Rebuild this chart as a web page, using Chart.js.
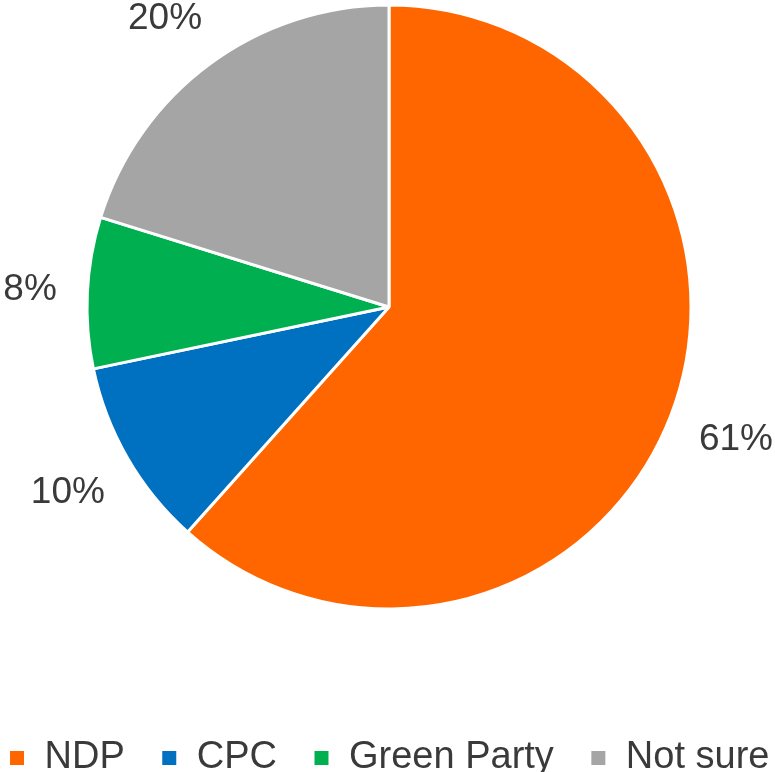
<!DOCTYPE html>
<html>
<head>
<meta charset="utf-8">
<script src="https://cdn.jsdelivr.net/npm/chart.js@4/dist/chart.umd.min.js"></script>
<style>
  html, body { margin: 0; padding: 0; background: #ffffff; overflow: hidden; width: 775px; height: 772px; }
  #wrap { position: absolute; left: -61px; top: -90px; width: 900px; height: 877px; }
</style>
</head>
<body>
<div id="wrap"><canvas id="c" width="900" height="877"></canvas></div>
<script>
const categories = ["NDP", "CPC", "Green Party", "Not sure"];
const values = [61, 10, 8, 20];
const valueLabels = ["61%", "10%", "8%", "20%"];
const colors = ["#FF6600", "#0070C0", "#00B050", "#A5A5A5"];

const FONT = "'Liberation Sans', Arial, sans-serif";
const VIEW_LEFT = 61, VIEW_TOP = 90, VIEW_W = 775;

const outsideLabels = {
  id: 'outsideLabels',
  afterDatasetsDraw(chart) {
    const ctx = chart.ctx;
    const meta = chart.getDatasetMeta(0);
    ctx.save();
    ctx.font = "37px " + FONT;
    ctx.fillStyle = "#3a3a3a";
    ctx.textAlign = "center";
    ctx.textBaseline = "middle";
    meta.data.forEach((arc, i) => {
      const p = arc.getProps(['x', 'y', 'startAngle', 'endAngle', 'outerRadius'], true);
      const a = (p.startAngle + p.endAngle) / 2;
      const txt = valueLabels[i];
      const w = ctx.measureText(txt).width;
      const h = 27;
      const d = p.outerRadius + 30 + Math.abs(Math.cos(a)) * w / 2 + Math.abs(Math.sin(a)) * h / 2;
      let x = p.x + Math.cos(a) * d;
      let y = p.y + Math.sin(a) * d;
      const yMin = VIEW_TOP + 19;
      if (y < yMin) {
        const dy = yMin - p.y;
        const dx = Math.sqrt(Math.max(d * d - dy * dy, 0));
        x = p.x + Math.sign(Math.cos(a)) * dx;
        y = yMin;
      }
      const xMax = VIEW_LEFT + VIEW_W - w / 2 - 2;
      if (x > xMax) x = xMax;
      const xMin = VIEW_LEFT + w / 2 + 2;
      if (x < xMin) x = xMin;
      ctx.fillText(txt, x, y);
    });
    ctx.restore();
  }
};

new Chart(document.getElementById('c'), {
  type: 'pie',
  data: {
    labels: categories,
    datasets: [{
      data: values,
      backgroundColor: colors,
      borderColor: "#ffffff",
      borderWidth: 3
    }]
  },
  options: {
    responsive: false,
    animation: false,
    radius: 302,
    layout: { padding: { top: 1, bottom: 0, left: 0, right: 0 } },
    plugins: {
      tooltip: { enabled: false },
      legend: {
        position: 'bottom',
        labels: {
          boxWidth: 17,
          boxHeight: 17,
          padding: 36,
          color: "#3a3a3a",
          font: { size: 38, family: FONT, lineHeight: 1 }
        }
      }
    }
  },
  plugins: [outsideLabels]
});
</script>
</body>
</html>
